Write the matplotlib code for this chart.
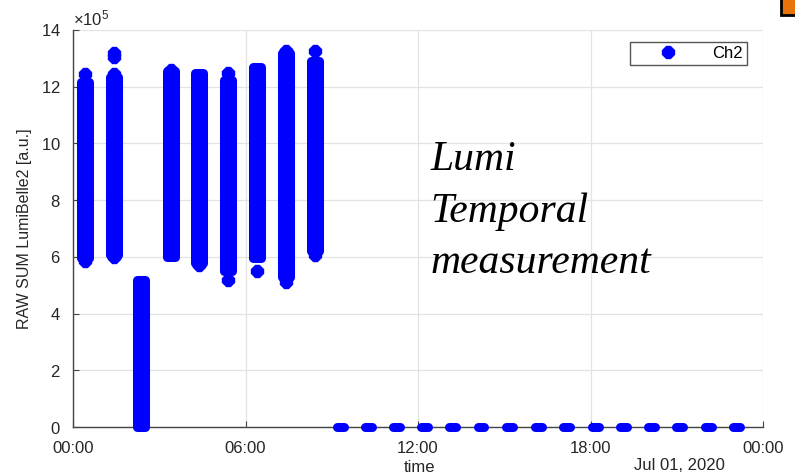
import numpy as np
import matplotlib
matplotlib.use('Agg')
import matplotlib.pyplot as plt
from matplotlib.ticker import ScalarFormatter
from matplotlib.patches import Rectangle

# bursts of Ch2 readings (hours since 00:00, raw sum)
burst_start = [0.28, 1.29, 2.24, 3.26, 4.25, 5.25, 6.25, 7.28, 8.28]
burst_end = [0.56, 1.57, 2.52, 3.54, 4.53, 5.53, 6.53, 7.56, 8.56]
burst_low = [5.95e5, 6.05e5, 0.0, 6.0e5, 5.8e5, 5.5e5, 5.95e5, 5.3e5, 6.2e5]
burst_high = [12.15e5, 12.35e5, 5.2e5, 12.55e5, 12.5e5, 12.25e5, 12.7e5, 13.2e5, 12.9e5]

# single readings sticking out of the bursts
spike_time = [0.42, 0.42, 1.43, 1.43, 1.43, 1.43, 3.40, 4.39, 5.39, 5.39, 6.39, 7.42, 7.42, 8.42, 8.42]
spike_val = [12.45e5, 5.85e5, 13.05e5, 13.2e5, 12.45e5, 6.0e5, 12.6e5, 5.7e5,
             12.5e5, 5.2e5, 5.5e5, 13.25e5, 5.1e5, 13.25e5, 6.05e5]

# zero readings in the afternoon
zero_time = [9.29, 10.28, 11.25, 12.24, 13.20, 14.19, 15.19, 16.19,
             17.16, 18.16, 19.15, 20.12, 21.11, 22.10, 23.08]

xticks = [0, 6, 12, 18, 24]
xlabels = ['00:00', '06:00', '12:00', '18:00', '00:00']
yticks = [0, 2e5, 4e5, 6e5, 8e5, 10e5, 12e5, 14e5]

blue = '#0000ff'
grey = '#262626'
plt.rcParams['font.family'] = ['Liberation Sans', 'DejaVu Sans']
plt.rcParams['mathtext.fontset'] = 'custom'
plt.rcParams['mathtext.rm'] = 'Liberation Sans'

fig = plt.figure(figsize=(7.95, 4.76), dpi=100)
ax = fig.add_axes([73/795, 1-427/476, 690/795, 397/476])

ms = 6.5
for t0, t1, lo, hi in zip(burst_start, burst_end, burst_low, burst_high):
    ax.bar(t0, hi-lo, width=t1-t0, bottom=lo, align='edge', color=blue,
           edgecolor=blue, linewidth=ms, joinstyle='round', zorder=3, clip_on=False)
ax.plot(spike_time, spike_val, linestyle='none', marker='8', ms=9, color=blue,
        zorder=3, clip_on=False)
for t in zero_time:
    ax.plot([t-0.12, t+0.12], [0, 0], color=blue, lw=ms, solid_capstyle='round',
            zorder=3, clip_on=False)

# legend entry
ax.plot([], [], linestyle='none', marker='8', ms=9, color=blue, label='Ch2')
leg = ax.legend(loc='upper right', bbox_to_anchor=(747/795, 1-42/476),
                bbox_transform=fig.transFigure, fancybox=False, framealpha=1,
                edgecolor='#555555', fontsize=12, handlelength=4.1,
                handletextpad=0.6, borderpad=0.25, borderaxespad=0)
leg.get_frame().set_linewidth(1.0)

ax.set_xlim(0, 24)
ax.set_ylim(0, 14e5)
ax.set_xticks(xticks)
ax.set_xticklabels(xlabels)
ax.set_yticks(yticks)
fmt = ScalarFormatter(useMathText=True)
fmt.set_powerlimits((5, 5))
ax.yaxis.set_major_formatter(fmt)
ax.yaxis.get_offset_text().set_fontsize(12)
ax.yaxis.get_offset_text().set_color(grey)

ax.grid(True, color='#e3e3e3', lw=0.9)
ax.set_axisbelow(True)
for s in ['top', 'right']:
    ax.spines[s].set_visible(False)
for s in ['left', 'bottom']:
    ax.spines[s].set_color('#444444')
    ax.spines[s].set_linewidth(1.0)
ax.tick_params(direction='in', length=4, color='#444444', labelsize=12,
               labelcolor=grey)
ax.tick_params(axis='x', pad=10)
ax.tick_params(axis='y', pad=9)

ax.set_ylabel('RAW SUM LumiBelle2 [a.u.]', fontsize=11.5, color=grey, labelpad=6)
fig.text(420/795, 1-467/476, 'time', ha='center', va='center', fontsize=12, color=grey)
fig.text(679/795, 1-466/476, 'Jul 01, 2020', ha='center', va='center', fontsize=12, color=grey)

note_lines = ['Lumi', 'Temporal', 'measurement']
note_base = [170, 222, 273]
for line, yb in zip(note_lines, note_base):
    fig.text(430/795, 1-yb/476, line, ha='left', va='baseline', fontsize=30,
             family='Liberation Serif', style='italic', color='black')

fig.patches.append(Rectangle((781/795, 1-15/476), 16/795, 17/476,
                             transform=fig.transFigure, facecolor='#e8730a',
                             edgecolor='black', lw=2))

fig.savefig('out.png', dpi=100)
